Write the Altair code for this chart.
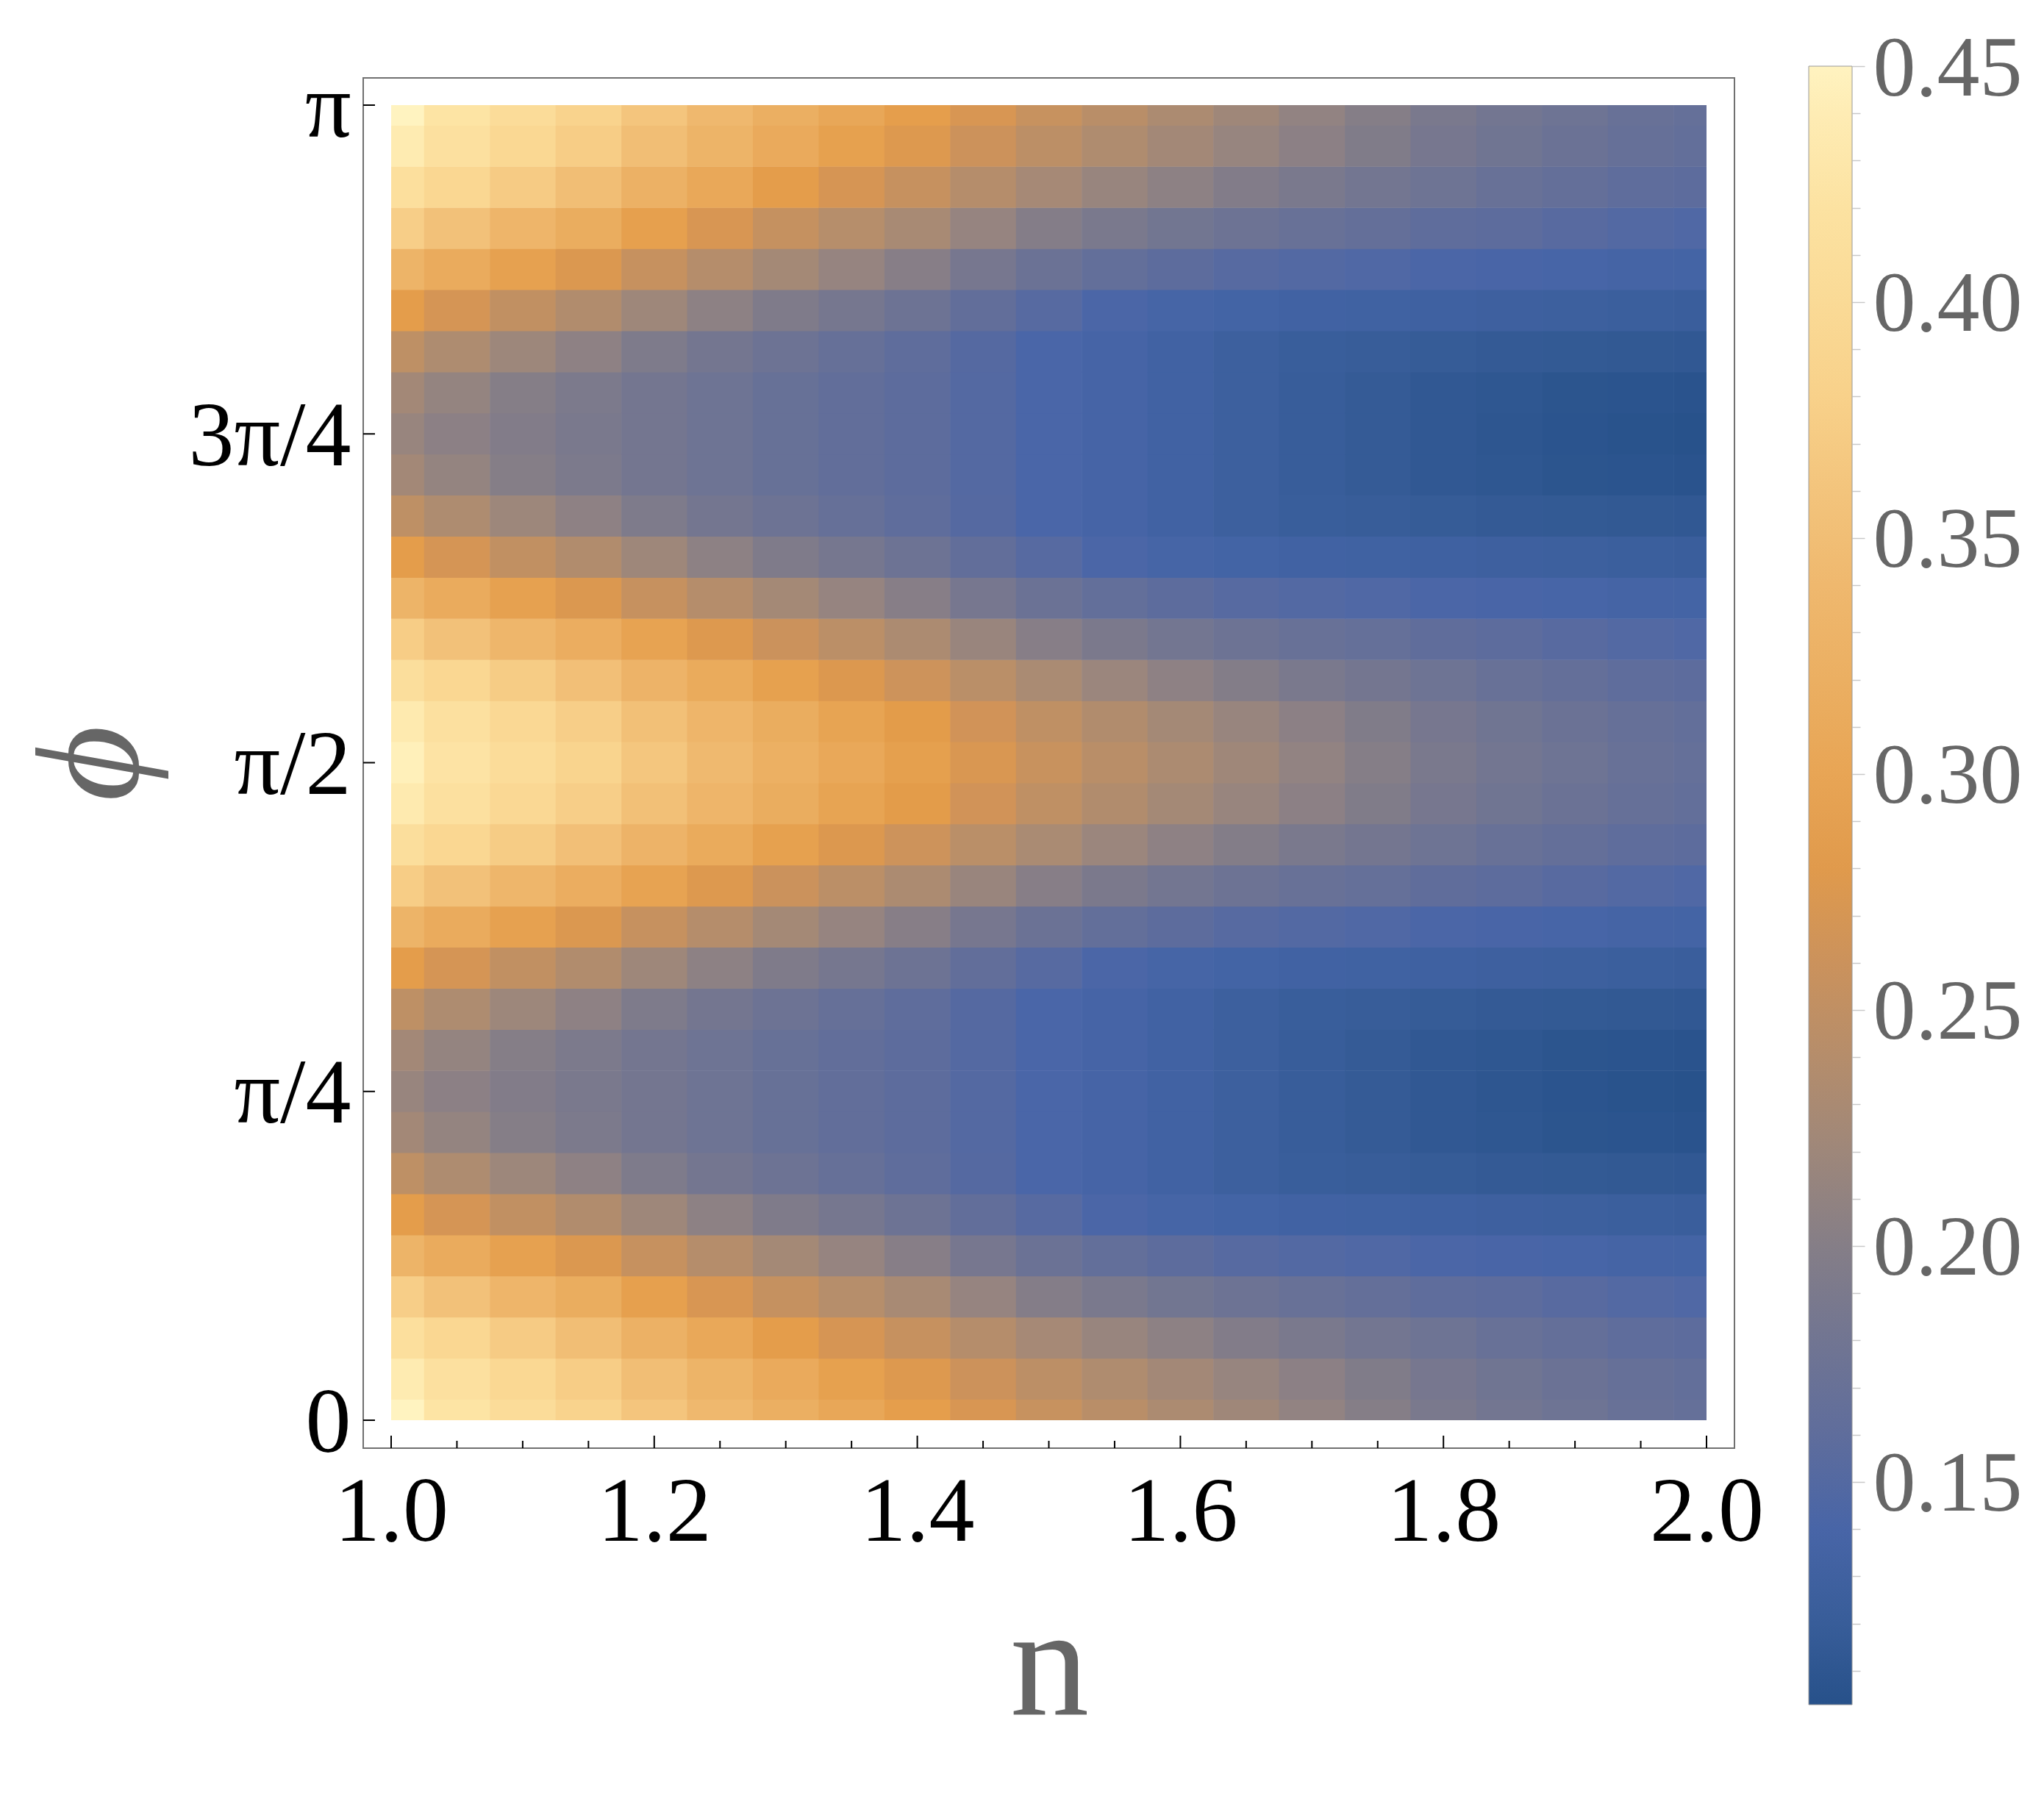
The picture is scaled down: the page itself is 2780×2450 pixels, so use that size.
import altair as alt
import pandas as pd

# ---------------- data ----------------
# grid of n (columns)
n_values = [1.00, 1.05, 1.10, 1.15, 1.20, 1.25, 1.30, 1.35, 1.40, 1.45, 1.50,
            1.55, 1.60, 1.65, 1.70, 1.75, 1.80, 1.85, 1.90, 1.95, 2.00]
# grid of phi (rows), in units of pi
phi_over_pi = [0.0, 0.03125, 0.0625, 0.09375, 0.125, 0.15625, 0.1875, 0.21875,
               0.25, 0.28125, 0.3125, 0.34375, 0.375, 0.40625, 0.4375, 0.46875,
               0.5, 0.53125, 0.5625, 0.59375, 0.625, 0.65625, 0.6875, 0.71875,
               0.75, 0.78125, 0.8125, 0.84375, 0.875, 0.90625, 0.9375, 0.96875, 1.0]

# value rows (one list per phi row, values along n)
z_phi00 = [0.450, 0.426, 0.405, 0.384, 0.361, 0.340, 0.320, 0.303, 0.288, 0.272, 0.257, 0.244, 0.232, 0.221, 0.210, 0.200, 0.190, 0.182, 0.176, 0.170, 0.166]
z_phi01 = [0.438, 0.416, 0.395, 0.374, 0.350, 0.330, 0.309, 0.292, 0.277, 0.261, 0.247, 0.235, 0.224, 0.214, 0.205, 0.196, 0.186, 0.179, 0.173, 0.167, 0.164]
z_phi02 = [0.413, 0.392, 0.371, 0.350, 0.325, 0.305, 0.286, 0.270, 0.256, 0.240, 0.226, 0.215, 0.206, 0.197, 0.189, 0.182, 0.176, 0.170, 0.165, 0.160, 0.157]
z_phi03 = [0.376, 0.355, 0.334, 0.314, 0.291, 0.272, 0.255, 0.241, 0.228, 0.213, 0.199, 0.190, 0.181, 0.175, 0.170, 0.165, 0.160, 0.157, 0.153, 0.149, 0.147]
z_phi04 = [0.330, 0.311, 0.293, 0.275, 0.256, 0.240, 0.225, 0.213, 0.201, 0.186, 0.173, 0.164, 0.157, 0.152, 0.149, 0.147, 0.144, 0.141, 0.139, 0.136, 0.135]
z_phi05 = [0.286, 0.269, 0.252, 0.237, 0.220, 0.206, 0.195, 0.185, 0.175, 0.163, 0.152, 0.144, 0.138, 0.134, 0.131, 0.130, 0.129, 0.127, 0.126, 0.124, 0.123]
z_phi06 = [0.249, 0.234, 0.219, 0.207, 0.194, 0.183, 0.175, 0.167, 0.159, 0.151, 0.143, 0.137, 0.131, 0.126, 0.122, 0.120, 0.118, 0.116, 0.115, 0.114, 0.113]
z_phi07 = [0.224, 0.212, 0.200, 0.192, 0.183, 0.176, 0.169, 0.163, 0.157, 0.150, 0.143, 0.137, 0.131, 0.126, 0.121, 0.117, 0.113, 0.111, 0.108, 0.107, 0.106]
z_phi08 = [0.215, 0.205, 0.197, 0.190, 0.183, 0.176, 0.169, 0.163, 0.157, 0.150, 0.143, 0.137, 0.131, 0.126, 0.121, 0.117, 0.113, 0.110, 0.107, 0.105, 0.104]
z_phi09 = [0.224, 0.212, 0.200, 0.192, 0.183, 0.176, 0.169, 0.163, 0.157, 0.150, 0.143, 0.137, 0.131, 0.126, 0.121, 0.117, 0.113, 0.111, 0.108, 0.107, 0.106]
z_phi10 = [0.249, 0.234, 0.219, 0.207, 0.194, 0.183, 0.175, 0.167, 0.159, 0.151, 0.143, 0.137, 0.131, 0.126, 0.122, 0.120, 0.118, 0.116, 0.115, 0.114, 0.113]
z_phi11 = [0.286, 0.269, 0.252, 0.237, 0.220, 0.206, 0.195, 0.185, 0.175, 0.163, 0.152, 0.144, 0.138, 0.134, 0.131, 0.130, 0.129, 0.127, 0.126, 0.124, 0.123]
z_phi12 = [0.330, 0.311, 0.293, 0.275, 0.256, 0.240, 0.225, 0.213, 0.201, 0.186, 0.173, 0.164, 0.157, 0.152, 0.149, 0.147, 0.144, 0.141, 0.139, 0.136, 0.135]
z_phi13 = [0.374, 0.355, 0.335, 0.316, 0.295, 0.277, 0.260, 0.246, 0.232, 0.216, 0.201, 0.191, 0.182, 0.175, 0.170, 0.166, 0.161, 0.157, 0.153, 0.149, 0.147]
z_phi14 = [0.411, 0.392, 0.372, 0.352, 0.329, 0.310, 0.292, 0.276, 0.262, 0.245, 0.230, 0.217, 0.207, 0.198, 0.190, 0.183, 0.176, 0.170, 0.165, 0.160, 0.157]
z_phi15 = [0.436, 0.416, 0.396, 0.376, 0.353, 0.334, 0.314, 0.297, 0.283, 0.265, 0.250, 0.237, 0.225, 0.215, 0.205, 0.196, 0.186, 0.179, 0.173, 0.167, 0.164]
z_phi16 = [0.445, 0.425, 0.405, 0.385, 0.362, 0.342, 0.322, 0.305, 0.290, 0.273, 0.258, 0.244, 0.232, 0.221, 0.210, 0.200, 0.190, 0.182, 0.176, 0.170, 0.166]
z_phi17 = [0.436, 0.416, 0.396, 0.376, 0.353, 0.334, 0.314, 0.297, 0.283, 0.265, 0.250, 0.237, 0.225, 0.215, 0.205, 0.196, 0.186, 0.179, 0.173, 0.167, 0.164]
z_phi18 = [0.411, 0.392, 0.372, 0.352, 0.329, 0.310, 0.292, 0.276, 0.262, 0.245, 0.230, 0.217, 0.207, 0.198, 0.190, 0.183, 0.176, 0.170, 0.165, 0.160, 0.157]
z_phi19 = [0.374, 0.355, 0.335, 0.316, 0.295, 0.277, 0.260, 0.246, 0.232, 0.216, 0.201, 0.191, 0.182, 0.175, 0.170, 0.166, 0.161, 0.157, 0.153, 0.149, 0.147]
z_phi20 = [0.330, 0.311, 0.293, 0.275, 0.256, 0.240, 0.225, 0.213, 0.201, 0.186, 0.173, 0.164, 0.157, 0.152, 0.149, 0.147, 0.144, 0.141, 0.139, 0.136, 0.135]
z_phi21 = [0.286, 0.269, 0.252, 0.237, 0.220, 0.206, 0.195, 0.185, 0.175, 0.163, 0.152, 0.144, 0.138, 0.134, 0.131, 0.130, 0.129, 0.127, 0.126, 0.124, 0.123]
z_phi22 = [0.249, 0.234, 0.219, 0.207, 0.194, 0.183, 0.175, 0.167, 0.159, 0.151, 0.143, 0.137, 0.131, 0.126, 0.122, 0.120, 0.118, 0.116, 0.115, 0.114, 0.113]
z_phi23 = [0.224, 0.212, 0.200, 0.192, 0.183, 0.176, 0.169, 0.163, 0.157, 0.150, 0.143, 0.137, 0.131, 0.126, 0.121, 0.117, 0.113, 0.111, 0.108, 0.107, 0.106]
z_phi24 = [0.215, 0.205, 0.197, 0.190, 0.183, 0.176, 0.169, 0.163, 0.157, 0.150, 0.143, 0.137, 0.131, 0.126, 0.121, 0.117, 0.113, 0.110, 0.107, 0.105, 0.104]
z_phi25 = [0.224, 0.212, 0.200, 0.192, 0.183, 0.176, 0.169, 0.163, 0.157, 0.150, 0.143, 0.137, 0.131, 0.126, 0.121, 0.117, 0.113, 0.111, 0.108, 0.107, 0.106]
z_phi26 = [0.249, 0.234, 0.219, 0.207, 0.194, 0.183, 0.175, 0.167, 0.159, 0.151, 0.143, 0.137, 0.131, 0.126, 0.122, 0.120, 0.118, 0.116, 0.115, 0.114, 0.113]
z_phi27 = [0.286, 0.269, 0.252, 0.237, 0.220, 0.206, 0.195, 0.185, 0.175, 0.163, 0.152, 0.144, 0.138, 0.134, 0.131, 0.130, 0.129, 0.127, 0.126, 0.124, 0.123]
z_phi28 = [0.330, 0.311, 0.293, 0.275, 0.256, 0.240, 0.225, 0.213, 0.201, 0.186, 0.173, 0.164, 0.157, 0.152, 0.149, 0.147, 0.144, 0.141, 0.139, 0.136, 0.135]
z_phi29 = [0.376, 0.355, 0.334, 0.314, 0.291, 0.272, 0.255, 0.241, 0.228, 0.213, 0.199, 0.190, 0.181, 0.175, 0.170, 0.165, 0.160, 0.157, 0.153, 0.149, 0.147]
z_phi30 = [0.413, 0.392, 0.371, 0.350, 0.325, 0.305, 0.286, 0.270, 0.256, 0.240, 0.226, 0.215, 0.206, 0.197, 0.189, 0.182, 0.176, 0.170, 0.165, 0.160, 0.157]
z_phi31 = [0.438, 0.416, 0.395, 0.374, 0.350, 0.330, 0.309, 0.292, 0.277, 0.261, 0.247, 0.235, 0.224, 0.214, 0.205, 0.196, 0.186, 0.179, 0.173, 0.167, 0.164]
z_phi32 = [0.450, 0.426, 0.405, 0.384, 0.361, 0.340, 0.320, 0.303, 0.288, 0.272, 0.257, 0.244, 0.232, 0.221, 0.210, 0.200, 0.190, 0.182, 0.176, 0.170, 0.166]

z_rows = [z_phi00, z_phi01, z_phi02, z_phi03, z_phi04, z_phi05, z_phi06, z_phi07,
          z_phi08, z_phi09, z_phi10, z_phi11, z_phi12, z_phi13, z_phi14, z_phi15,
          z_phi16, z_phi17, z_phi18, z_phi19, z_phi20, z_phi21, z_phi22, z_phi23,
          z_phi24, z_phi25, z_phi26, z_phi27, z_phi28, z_phi29, z_phi30, z_phi31, z_phi32]

# tick values
x_major = [1.0, 1.2, 1.4, 1.6, 1.8, 2.0]
x_minor = [1.05, 1.1, 1.15, 1.25, 1.3, 1.35, 1.45, 1.5, 1.55, 1.65, 1.7, 1.75, 1.85, 1.9, 1.95]
y_ticks = [0.0, 0.25, 0.5, 0.75, 1.0]
cb_ticks = [0.11, 0.12, 0.13, 0.14, 0.15, 0.16, 0.17, 0.18, 0.19, 0.20, 0.21, 0.22,
            0.23, 0.24, 0.25, 0.26, 0.27, 0.28, 0.29, 0.30, 0.31, 0.32, 0.33, 0.34,
            0.35, 0.36, 0.37, 0.38, 0.39, 0.40, 0.41, 0.42, 0.43, 0.44, 0.45]

# colour bar palette (value stops and colours)
col_domain = [0.1028, 0.117, 0.132, 0.143, 0.155, 0.172, 0.195, 0.21, 0.228,
              0.25, 0.268, 0.284, 0.306, 0.34, 0.385, 0.429, 0.45]
col_range = ['#27518a', '#355b96', '#4263a4', '#4a66a8', '#5b6b9e', '#6a7296',
             '#7f7b8a', '#928382', '#a88a74', '#bf9064', '#d49456', '#e49c49',
             '#e9a95a', '#efb86e', '#f9d48e', '#fde5a6', '#fff3c0']

# ---------------- layout / style constants ----------------
W, H = 1865, 1864
PX = 1789.0                       # pixels per data unit (both axes)
x_dom = [1 - 38 / PX, 2 + 38 / PX]
y_dom = [-38 / PX, 1 + 37 / PX]
FONT = 'Liberation Serif'
GRAY = '#666666'
SEAM = 0.6 / PX                   # tiny overlap so neighbouring cells leave no hairline

# ---------------- tables ----------------
dn = 0.025
dp = 1 / 64
recs = []
for k, p in enumerate(phi_over_pi):
    row = z_rows[k]
    for i, n in enumerate(n_values):
        recs.append({
            'n_lo': max(1.0, n - dn), 'n_hi': min(2.0, n + dn + SEAM),
            'p_lo': max(0.0, p - dp), 'p_hi': min(1.0, p + dp + SEAM),
            'v': row[i],
        })
cells = pd.DataFrame(recs)

xmaj_df = pd.DataFrame({'n': x_major, 'y0': y_dom[0], 'y1': y_dom[0] + 17 / PX})
xmin_df = pd.DataFrame({'n': x_minor, 'y0': y_dom[0], 'y1': y_dom[0] + 10 / PX})
ytk_df = pd.DataFrame({'p': y_ticks, 'x0': x_dom[0], 'x1': x_dom[0] + 16 / PX})
cb_df = pd.DataFrame({'c': cb_ticks})

x_scale = alt.Scale(domain=x_dom, nice=False, zero=False)
y_scale = alt.Scale(domain=y_dom, nice=False, zero=False)
color_scale = alt.Scale(domain=col_domain, range=col_range, interpolate='rgb', clamp=True)

x_axis = alt.Axis(values=x_major, format='.1f', ticks=False, tickSize=0, domain=False,
                  grid=False, labelFont=FONT, labelFontSize=124, labelColor='black',
                  labelPadding=125, labelBaseline='alphabetic', labelFlush=False,
                  labelOverlap=False, labelLimit=0, title='n', titleFont=FONT,
                  titleFontSize=215, titleFontWeight='normal', titleColor=GRAY,
                  titleX=933, titleY=362, titleBaseline='alphabetic', titleAlign='center',
                  titleLimit=0)

y_axis = alt.Axis(orient='left', values=y_ticks, ticks=False, tickSize=0, domain=False,
                  grid=False,
                  labelExpr="datum.value == 0 ? '0' : datum.value == 0.25 ? 'π/4' : "
                            "datum.value == 0.5 ? 'π/2' : datum.value == 0.75 ? '3π/4' : 'π'",
                  labelFont=FONT, labelFontSize=124, labelColor='black', labelPadding=17,
                  labelBaseline='alphabetic', labelOffset=42, labelFlush=False,
                  labelOverlap=False, labelLimit=0, title='ϕ', titleFont=FONT,
                  titleFontSize=200, titleFontStyle='italic', titleFontWeight='normal',
                  titleColor=GRAY, titleAngle=270, titleX=-308, titleY=932,
                  titleBaseline='alphabetic', titleAlign='center', titleLimit=0)

legend = alt.Legend(type='gradient', orient='none', legendX=1966, legendY=-16,
                    direction='vertical', gradientLength=2229, gradientThickness=59,
                    title=None, labelOpacity=0, labelFontSize=10, padding=0, offset=0,
                    gradientStrokeColor='#9a9a9a', gradientStrokeWidth=1)

heat = alt.Chart(cells).mark_rect(strokeWidth=0).encode(
    x=alt.X('n_lo:Q', scale=x_scale, axis=x_axis),
    x2='n_hi:Q',
    y=alt.Y('p_lo:Q', scale=y_scale, axis=y_axis),
    y2='p_hi:Q',
    color=alt.Color('v:Q', scale=color_scale, legend=legend),
)

xmaj = alt.Chart(xmaj_df).mark_rule(color='black', strokeWidth=2).encode(
    x=alt.X('n:Q', scale=x_scale, axis=x_axis),
    y=alt.Y('y0:Q', scale=y_scale, axis=None),
    y2='y1:Q',
)
xmin = alt.Chart(xmin_df).mark_rule(color='black', strokeWidth=2).encode(
    x=alt.X('n:Q', scale=x_scale, axis=x_axis),
    y=alt.Y('y0:Q', scale=y_scale, axis=None),
    y2='y1:Q',
)
ytk = alt.Chart(ytk_df).mark_rule(color='black', strokeWidth=2).encode(
    x=alt.X('x0:Q', scale=x_scale, axis=x_axis),
    x2='x1:Q',
    y=alt.Y('p:Q', scale=y_scale, axis=None),
)

major_test = "abs(datum.value * 20 - round(datum.value * 20)) < 0.001"
cb_axis = alt.Axis(orient='right', offset=160, values=cb_ticks,
                   tickSize={'condition': {'test': major_test, 'value': 17}, 'value': 11},
                   tickColor='#c8c8c8', tickWidth=1.5, domain=False, grid=False,
                   labelExpr=major_test + " ? format(datum.value, '.2f') : ''",
                   labelFont=FONT, labelFontSize=116, labelColor=GRAY, labelPadding=11,
                   labelBaseline='alphabetic', labelOffset=39, labelFlush=False,
                   labelOverlap=False, labelLimit=0, title=None)

cbax = alt.Chart(cb_df).mark_point(opacity=0).encode(
    y=alt.Y('c:Q', scale=alt.Scale(domain=[0.1028, 0.45], range=[2213, -16],
                                   nice=False, zero=False), axis=cb_axis),
)

chart = alt.layer(heat, xmaj, xmin, ytk, cbax).resolve_scale(
    y='independent'
).properties(
    width=W, height=H,
    autosize=alt.AutoSizeParams(type='none'),
    padding={'left': 486, 'top': 98, 'right': 405, 'bottom': 460},
    background='white',
).configure_view(
    stroke='#707070', strokeWidth=2
)

chart.save('out.html', embed_options={'renderer': 'svg', 'actions': False})
